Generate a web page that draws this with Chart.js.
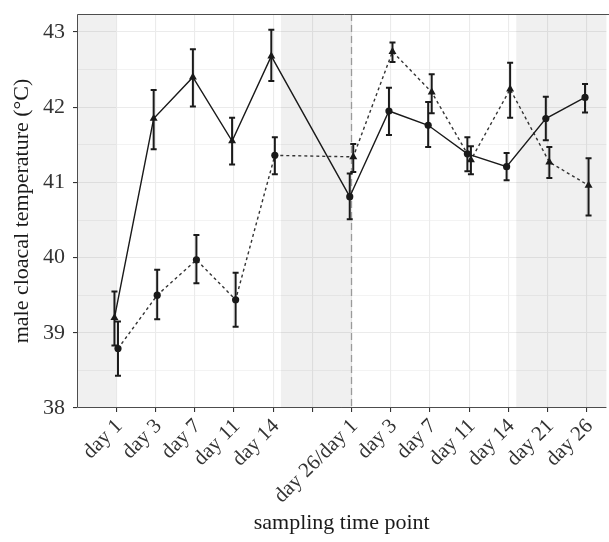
<!DOCTYPE html>
<html>
<head>
<meta charset="utf-8">
<script src="https://cdn.jsdelivr.net/npm/chart.js@4/dist/chart.umd.min.js"></script>
<style>
  body { margin: 0; background: #fff; overflow: hidden; }
  /* a couple of px wider than the window: the original panel is cut off on the right */
  #wrap { width: 611px; height: 542px; }
</style>
</head>
<body>
<div id="wrap"><canvas id="tempChart"></canvas></div>
<script>
// Data (index 5 is the empty slot between the two periods)
const xLabels = ['day 1', 'day 3', 'day 7', 'day 11', 'day 14', '', 'day 26/day 1', 'day 3', 'day 7', 'day 11', 'day 14', 'day 21', 'day 26'];

const solidMean = [39.20, 41.85, 42.40, 41.55, 42.68, null, 40.81, 41.95, 41.76, 41.38, 41.21, 41.85, 42.13];
const solidLow  = [38.83, 41.44, 42.01, 41.24, 42.35, null, 40.51, 41.63, 41.47, 41.15, 41.03, 41.56, 41.93];
const solidHigh = [39.55, 42.23, 42.77, 41.86, 43.03, null, 41.12, 42.26, 42.07, 41.60, 41.39, 42.14, 42.31];

const dottedMean = [38.79, 39.50, 39.97, 39.44, 41.36, null, 41.34, 42.74, 42.20, 41.30, 42.24, 41.27, 40.96];
const dottedLow  = [38.43, 39.18, 39.66, 39.08, 41.11, null, 41.14, 42.60, 41.92, 41.11, 41.86, 41.06, 40.56];
const dottedHigh = [39.15, 39.84, 40.30, 39.80, 41.60, null, 41.51, 42.86, 42.44, 41.48, 42.59, 41.47, 41.32];

const yTicks = [38, 39, 40, 41, 42, 43];
// shaded periods, in x-index units
const shadeBands = [[-1, 0], [4.2, 6], [10.2, 12.5]];
const dodge = 0.045;

const toPoints = (arr, shift) => arr
    .map((v, i) => v === null ? null : { x: i + shift, y: v })
    .filter(p => p !== null);

const serif = "'Liberation Serif', 'DejaVu Serif', serif";

// background shading, dashed divider, error bars, panel border
const decorations = {
    id: 'decorations',
    beforeDatasetsDraw(chart) {
        const { ctx, chartArea: a, scales: { x, y } } = chart;
        ctx.save();
        ctx.fillStyle = 'rgba(0,0,0,0.06)';
        shadeBands.forEach(([s, e]) => {
            const x0 = Math.max(x.getPixelForValue(s), a.left);
            const x1 = Math.min(x.getPixelForValue(e), a.right);
            ctx.fillRect(x0, a.top, x1 - x0, a.bottom - a.top);
        });
        // divider between the two periods
        const xd = x.getPixelForValue(6);
        ctx.strokeStyle = '#9a9a9a';
        ctx.lineWidth = 1.3;
        ctx.setLineDash([7, 4]);
        ctx.beginPath();
        ctx.moveTo(xd, a.top);
        ctx.lineTo(xd, a.bottom);
        ctx.stroke();
        ctx.restore();
    },
    afterDatasetsDraw(chart) {
        const { ctx, chartArea: a, scales: { x, y } } = chart;
        ctx.save();
        ctx.strokeStyle = '#1a1a1a';
        ctx.lineWidth = 2;
        const drawBars = (low, high, shift) => {
            low.forEach((lo, i) => {
                if (lo === null) return;
                const px = x.getPixelForValue(i + shift);
                const y0 = y.getPixelForValue(lo);
                const y1 = y.getPixelForValue(high[i]);
                ctx.beginPath();
                ctx.moveTo(px, y0); ctx.lineTo(px, y1);
                ctx.moveTo(px - 3, y0); ctx.lineTo(px + 3, y0);
                ctx.moveTo(px - 3, y1); ctx.lineTo(px + 3, y1);
                ctx.stroke();
            });
        };
        drawBars(solidLow, solidHigh, -dodge);
        drawBars(dottedLow, dottedHigh, dodge);
        // panel border (right side is cut off in the original)
        ctx.strokeStyle = '#4d4d4d';
        ctx.lineWidth = 1;
        ctx.beginPath();
        ctx.moveTo(chart.width, a.top + 0.5);
        ctx.lineTo(a.left + 0.5, a.top + 0.5);
        ctx.lineTo(a.left + 0.5, a.bottom - 0.5);
        ctx.lineTo(a.right, a.bottom - 0.5);
        ctx.stroke();
        ctx.restore();
    }
};

new Chart(document.getElementById('tempChart'), {
    type: 'line',
    data: {
        datasets: [
            {
                label: 'solid',
                data: toPoints(solidMean, -dodge),
                borderColor: '#1a1a1a',
                borderWidth: 1.4,
                pointStyle: ctx => ctx.dataIndex < 5 ? 'triangle' : 'circle',
                pointRadius: ctx => ctx.dataIndex < 5 ? 4.6 : 3.6,
                pointBackgroundColor: '#1a1a1a',
                pointBorderColor: '#1a1a1a',
                pointBorderWidth: 0,
                tension: 0
            },
            {
                label: 'dotted',
                data: toPoints(dottedMean, dodge),
                borderColor: '#333',
                borderWidth: 1.4,
                borderDash: [3, 3],
                pointStyle: ctx => ctx.dataIndex < 5 ? 'circle' : 'triangle',
                pointRadius: ctx => ctx.dataIndex < 5 ? 3.6 : 4.6,
                pointBackgroundColor: '#1a1a1a',
                pointBorderColor: '#1a1a1a',
                pointBorderWidth: 0,
                tension: 0
            }
        ]
    },
    options: {
        responsive: true,
        maintainAspectRatio: false,
        animation: false,
        layout: { padding: { top: 14, right: 0, left: 0, bottom: 0 } },
        plugins: {
            legend: { display: false },
            tooltip: { enabled: false }
        },
        scales: {
            x: {
                type: 'linear',
                min: -1,
                max: 12.5,
                afterBuildTicks: scale => {
                    scale.ticks = xLabels.map((_, i) => ({ value: i }));
                },
                afterFit: scale => {
                    scale.height = 134;
                    scale.paddingLeft = 0;
                    scale.paddingRight = 0;
                },
                ticks: {
                    autoSkip: false,
                    maxRotation: 45,
                    minRotation: 45,
                    padding: 2,
                    labelOffset: 3,
                    color: '#333',
                    font: { family: serif, size: 21 },
                    callback: v => xLabels[v] ?? ''
                },
                grid: {
                    color: '#ebebeb',
                    lineWidth: 1.1,
                    tickLength: 4,
                    tickColor: '#333'
                },
                border: { display: false },
                title: {
                    display: true,
                    text: 'sampling time point',
                    color: '#1a1a1a',
                    font: { family: serif, size: 22 },
                    padding: { bottom: 6 }
                }
            },
            y: {
                min: 38,
                max: 43.24,
                afterBuildTicks: scale => {
                    const t = [];
                    yTicks.forEach((v, i) => {
                        t.push({ value: v });
                        if (i < yTicks.length - 1) t.push({ value: v + 0.5 });
                    });
                    scale.ticks = t;
                },
                afterFit: scale => {
                    scale.width = 77;
                    scale.paddingTop = 0;
                    scale.paddingBottom = 0;
                },
                ticks: {
                    padding: 8,
                    color: '#333',
                    font: { family: serif, size: 22 },
                    callback: v => Number.isInteger(v) ? v : ''
                },
                grid: {
                    color: '#ebebeb',
                    lineWidth: ctx => Number.isInteger(ctx.tick.value) ? 1.1 : 0.6,
                    tickLength: 4,
                    tickColor: ctx => Number.isInteger(ctx.tick.value) ? '#333' : 'rgba(0,0,0,0)'
                },
                border: { display: false },
                title: {
                    display: true,
                    text: 'male cloacal temperature (°C)',
                    color: '#1a1a1a',
                    font: { family: serif, size: 22 },
                    padding: { top: 9 }
                }
            }
        }
    },
    plugins: [decorations]
});
</script>
</body>
</html>
